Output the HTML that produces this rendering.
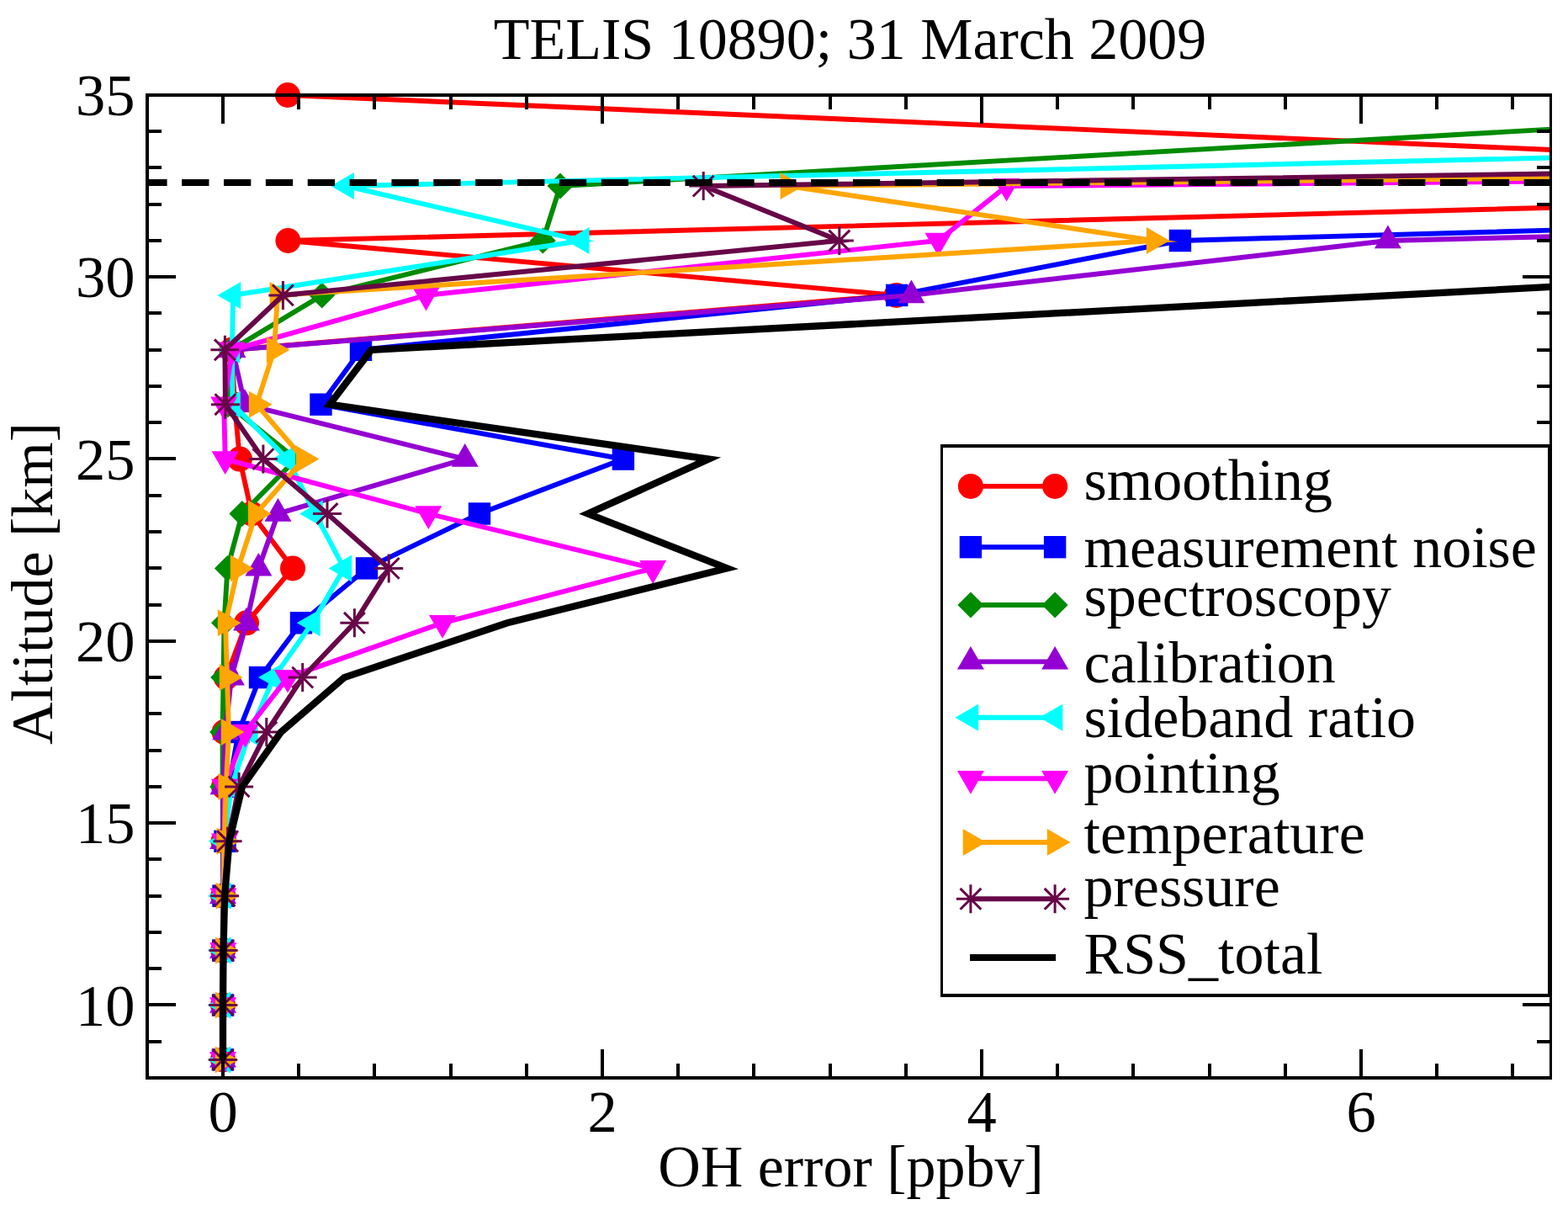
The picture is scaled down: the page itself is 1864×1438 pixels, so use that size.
<!DOCTYPE html>
<html><head><meta charset="utf-8"><title>TELIS 10890; 31 March 2009</title>
<style>
html,body{margin:0;padding:0;background:#fff;}
svg{display:block;}
text{font-family:"Liberation Serif","Times New Roman",serif;fill:#000;}
</style></head><body>
<svg width="1864" height="1438" viewBox="0 0 1864 1438">
<rect width="1864" height="1438" fill="#fff"/>
<defs><clipPath id="pc"><rect x="175" y="113" width="1668.5" height="1168"/></clipPath></defs>

<g><path d="M342 113 L2835 220.9 L342.4 286 L1065.6 350.9 L275.5 415.8 L279 480.7 L285 545.6 L299.3 610.5 L348 675.4 L293 740.3 L268.7 805.1 L266.5 870 L266 934.9 L265.5 999.8 L265.3 1064.7 L265.2 1129.6 L265.1 1194.5 L265 1259.4" fill="none" stroke="#ff0000" stroke-width="5.9" stroke-linejoin="miter" stroke-miterlimit="10" clip-path="url(#pc)"/>
<circle cx="342" cy="113" r="15" fill="#ff0000"/>
<circle cx="342.4" cy="286" r="15" fill="#ff0000"/>
<circle cx="1065.6" cy="350.9" r="15" fill="#ff0000"/>
<circle cx="275.5" cy="415.8" r="15" fill="#ff0000"/>
<circle cx="279" cy="480.7" r="15" fill="#ff0000"/>
<circle cx="285" cy="545.6" r="15" fill="#ff0000"/>
<circle cx="299.3" cy="610.5" r="15" fill="#ff0000"/>
<circle cx="348" cy="675.4" r="15" fill="#ff0000"/>
<circle cx="293" cy="740.3" r="15" fill="#ff0000"/>
<circle cx="268.7" cy="805.1" r="15" fill="#ff0000"/>
<circle cx="266.5" cy="870" r="15" fill="#ff0000"/>
<circle cx="266" cy="934.9" r="15" fill="#ff0000"/>
<circle cx="265.5" cy="999.8" r="15" fill="#ff0000"/>
<circle cx="265.3" cy="1064.7" r="15" fill="#ff0000"/>
<circle cx="265.2" cy="1129.6" r="15" fill="#ff0000"/>
<circle cx="265.1" cy="1194.5" r="15" fill="#ff0000"/>
<circle cx="265" cy="1259.4" r="15" fill="#ff0000"/>
</g>
<g><path d="M2000 269.3 L1402.9 286 L1066.2 350.9 L429 415.8 L381.5 480.7 L740.9 545.6 L570 610.5 L436 675.4 L358 740.3 L309 805.1 L283.5 870 L272 934.9 L267.5 999.8 L265.5 1064.7 L265.2 1129.6 L265.1 1194.5 L265 1259.4" fill="none" stroke="#0000ff" stroke-width="5.9" stroke-linejoin="miter" stroke-miterlimit="10" clip-path="url(#pc)"/>
<rect x="1389.7" y="272.8" width="26.4" height="26.4" fill="#0000ff"/>
<rect x="1053" y="337.7" width="26.4" height="26.4" fill="#0000ff"/>
<rect x="415.8" y="402.6" width="26.4" height="26.4" fill="#0000ff"/>
<rect x="368.3" y="467.5" width="26.4" height="26.4" fill="#0000ff"/>
<rect x="727.7" y="532.4" width="26.4" height="26.4" fill="#0000ff"/>
<rect x="556.8" y="597.3" width="26.4" height="26.4" fill="#0000ff"/>
<rect x="422.8" y="662.2" width="26.4" height="26.4" fill="#0000ff"/>
<rect x="344.8" y="727.1" width="26.4" height="26.4" fill="#0000ff"/>
<rect x="295.8" y="791.9" width="26.4" height="26.4" fill="#0000ff"/>
<rect x="270.3" y="856.8" width="26.4" height="26.4" fill="#0000ff"/>
<rect x="258.8" y="921.7" width="26.4" height="26.4" fill="#0000ff"/>
<rect x="254.3" y="986.6" width="26.4" height="26.4" fill="#0000ff"/>
<rect x="252.3" y="1051.5" width="26.4" height="26.4" fill="#0000ff"/>
<rect x="252" y="1116.4" width="26.4" height="26.4" fill="#0000ff"/>
<rect x="251.9" y="1181.3" width="26.4" height="26.4" fill="#0000ff"/>
<rect x="251.8" y="1246.2" width="26.4" height="26.4" fill="#0000ff"/>
</g>
<g><path d="M2000 144.7 L666 221.1 L645.3 286 L382.7 350.9 L275 415.8 L271 480.7 L352 545.6 L287.9 610.5 L270.4 675.4 L266.5 740.3 L265.6 805.1 L264.6 870 L264.6 934.9 L265 999.8 L265 1064.7 L265 1129.6 L265 1194.5 L265 1259.4" fill="none" stroke="#008b00" stroke-width="5.9" stroke-linejoin="miter" stroke-miterlimit="10" clip-path="url(#pc)"/>
<polygon points="666,205.6 681.5,221.1 666,236.6 650.5,221.1" fill="#008b00"/>
<polygon points="645.3,270.5 660.8,286 645.3,301.5 629.8,286" fill="#008b00"/>
<polygon points="382.7,335.4 398.2,350.9 382.7,366.4 367.2,350.9" fill="#008b00"/>
<polygon points="275,400.3 290.5,415.8 275,431.3 259.5,415.8" fill="#008b00"/>
<polygon points="271,465.2 286.5,480.7 271,496.2 255.5,480.7" fill="#008b00"/>
<polygon points="352,530.1 367.5,545.6 352,561.1 336.5,545.6" fill="#008b00"/>
<polygon points="287.9,595 303.4,610.5 287.9,626 272.4,610.5" fill="#008b00"/>
<polygon points="270.4,659.9 285.9,675.4 270.4,690.9 254.9,675.4" fill="#008b00"/>
<polygon points="266.5,724.8 282,740.3 266.5,755.8 251,740.3" fill="#008b00"/>
<polygon points="265.6,789.6 281.1,805.1 265.6,820.6 250.1,805.1" fill="#008b00"/>
<polygon points="264.6,854.5 280.1,870 264.6,885.5 249.1,870" fill="#008b00"/>
<polygon points="264.6,919.4 280.1,934.9 264.6,950.4 249.1,934.9" fill="#008b00"/>
<polygon points="265,984.3 280.5,999.8 265,1015.3 249.5,999.8" fill="#008b00"/>
<polygon points="265,1049.2 280.5,1064.7 265,1080.2 249.5,1064.7" fill="#008b00"/>
<polygon points="265,1114.1 280.5,1129.6 265,1145.1 249.5,1129.6" fill="#008b00"/>
<polygon points="265,1179 280.5,1194.5 265,1210 249.5,1194.5" fill="#008b00"/>
<polygon points="265,1243.9 280.5,1259.4 265,1274.9 249.5,1259.4" fill="#008b00"/>
</g>
<g><path d="M2000 277.3 L1649.9 286 L1083.4 350.9 L276.5 415.8 L291 480.7 L552.7 545.6 L330.5 610.5 L307.4 675.4 L293 740.3 L274.9 805.1 L268.2 870 L265.5 934.9 L265.2 999.8 L265 1064.7 L265 1129.6 L265 1194.5 L265 1259.4" fill="none" stroke="#9400d3" stroke-width="5.9" stroke-linejoin="miter" stroke-miterlimit="10" clip-path="url(#pc)"/>
<polygon points="1649.9,267.5 1665.9,295.3 1633.9,295.3" fill="#9400d3"/>
<polygon points="1083.4,332.4 1099.4,360.2 1067.4,360.2" fill="#9400d3"/>
<polygon points="276.5,397.3 292.5,425.1 260.5,425.1" fill="#9400d3"/>
<polygon points="291,462.2 307,490 275,490" fill="#9400d3"/>
<polygon points="552.7,527.1 568.7,554.8 536.7,554.8" fill="#9400d3"/>
<polygon points="330.5,592 346.5,619.7 314.5,619.7" fill="#9400d3"/>
<polygon points="307.4,656.9 323.4,684.6 291.4,684.6" fill="#9400d3"/>
<polygon points="293,721.8 309,749.5 277,749.5" fill="#9400d3"/>
<polygon points="274.9,786.6 290.9,814.4 258.9,814.4" fill="#9400d3"/>
<polygon points="268.2,851.5 284.2,879.3 252.2,879.3" fill="#9400d3"/>
<polygon points="265.5,916.4 281.5,944.2 249.5,944.2" fill="#9400d3"/>
<polygon points="265.2,981.3 281.2,1009.1 249.2,1009.1" fill="#9400d3"/>
<polygon points="265,1046.2 281,1073.9 249,1073.9" fill="#9400d3"/>
<polygon points="265,1111.1 281,1138.8 249,1138.8" fill="#9400d3"/>
<polygon points="265,1176 281,1203.7 249,1203.7" fill="#9400d3"/>
<polygon points="265,1240.9 281,1268.6 249,1268.6" fill="#9400d3"/>
</g>
<g><path d="M2000 183.9 L411.7 221.1 L691.3 286 L277 350.9 L276 415.8 L276.5 480.7 L342 545.6 L374.5 610.5 L409 675.4 L371.3 740.3 L325.5 805.1 L297.3 870 L275 934.9 L266.2 999.8 L265.5 1064.7 L265.3 1129.6 L265.1 1194.5 L265 1259.4" fill="none" stroke="#00ffff" stroke-width="5.9" stroke-linejoin="miter" stroke-miterlimit="10" clip-path="url(#pc)"/>
<polygon points="393.2,221.1 420.9,205.1 420.9,237.1" fill="#00ffff"/>
<polygon points="672.8,286 700.5,270 700.5,302" fill="#00ffff"/>
<polygon points="258.5,350.9 286.2,334.9 286.2,366.9" fill="#00ffff"/>
<polygon points="257.5,415.8 285.2,399.8 285.2,431.8" fill="#00ffff"/>
<polygon points="258,480.7 285.8,464.7 285.8,496.7" fill="#00ffff"/>
<polygon points="323.5,545.6 351.2,529.6 351.2,561.6" fill="#00ffff"/>
<polygon points="356,610.5 383.8,594.5 383.8,626.5" fill="#00ffff"/>
<polygon points="390.5,675.4 418.2,659.4 418.2,691.4" fill="#00ffff"/>
<polygon points="352.8,740.3 380.6,724.3 380.6,756.3" fill="#00ffff"/>
<polygon points="307,805.1 334.8,789.1 334.8,821.1" fill="#00ffff"/>
<polygon points="278.8,870 306.6,854 306.6,886" fill="#00ffff"/>
<polygon points="256.5,934.9 284.2,918.9 284.2,950.9" fill="#00ffff"/>
<polygon points="247.7,999.8 275.4,983.8 275.4,1015.8" fill="#00ffff"/>
<polygon points="247,1064.7 274.8,1048.7 274.8,1080.7" fill="#00ffff"/>
<polygon points="246.8,1129.6 274.6,1113.6 274.6,1145.6" fill="#00ffff"/>
<polygon points="246.6,1194.5 274.4,1178.5 274.4,1210.5" fill="#00ffff"/>
<polygon points="246.5,1259.4 274.2,1243.4 274.2,1275.4" fill="#00ffff"/>
</g>
<g><path d="M2000 214.1 L1196.6 221.1 L1115.5 286 L506.5 350.9 L276 415.8 L266.2 480.7 L267.7 545.6 L509.3 610.5 L776.2 675.4 L526 740.3 L342 805.1 L291.5 870 L267 934.9 L267 999.8 L265.5 1064.7 L265.3 1129.6 L265.1 1194.5 L265 1259.4" fill="none" stroke="#ff00ff" stroke-width="5.9" stroke-linejoin="miter" stroke-miterlimit="10" clip-path="url(#pc)"/>
<polygon points="1196.6,239.6 1212.6,211.9 1180.6,211.9" fill="#ff00ff"/>
<polygon points="1115.5,304.5 1131.5,276.8 1099.5,276.8" fill="#ff00ff"/>
<polygon points="506.5,369.4 522.5,341.7 490.5,341.7" fill="#ff00ff"/>
<polygon points="276,434.3 292,406.6 260,406.6" fill="#ff00ff"/>
<polygon points="266.2,499.2 282.2,471.5 250.2,471.5" fill="#ff00ff"/>
<polygon points="267.7,564.1 283.7,536.3 251.7,536.3" fill="#ff00ff"/>
<polygon points="509.3,629 525.3,601.2 493.3,601.2" fill="#ff00ff"/>
<polygon points="776.2,693.9 792.2,666.1 760.2,666.1" fill="#ff00ff"/>
<polygon points="526,758.8 542,731 510,731" fill="#ff00ff"/>
<polygon points="342,823.6 358,795.9 326,795.9" fill="#ff00ff"/>
<polygon points="291.5,888.5 307.5,860.8 275.5,860.8" fill="#ff00ff"/>
<polygon points="267,953.4 283,925.7 251,925.7" fill="#ff00ff"/>
<polygon points="267,1018.3 283,990.6 251,990.6" fill="#ff00ff"/>
<polygon points="265.5,1083.2 281.5,1055.4 249.5,1055.4" fill="#ff00ff"/>
<polygon points="265.3,1148.1 281.3,1120.3 249.3,1120.3" fill="#ff00ff"/>
<polygon points="265.1,1213 281.1,1185.2 249.1,1185.2" fill="#ff00ff"/>
<polygon points="265,1277.9 281,1250.1 249,1250.1" fill="#ff00ff"/>
</g>
<g><path d="M2000 210 L936.9 221.1 L1372 286 L329.9 350.9 L326 415.8 L305 480.7 L361 545.6 L304.2 610.5 L283 675.4 L268 740.3 L270 805.1 L272 870 L268.7 934.9 L266.7 999.8 L265.8 1064.7 L265.3 1129.6 L265.1 1194.5 L265 1259.4" fill="none" stroke="#ffa500" stroke-width="5.9" stroke-linejoin="miter" stroke-miterlimit="10" clip-path="url(#pc)"/>
<polygon points="955.4,221.1 927.6,205.1 927.6,237.1" fill="#ffa500"/>
<polygon points="1390.5,286 1362.8,270 1362.8,302" fill="#ffa500"/>
<polygon points="348.4,350.9 320.6,334.9 320.6,366.9" fill="#ffa500"/>
<polygon points="344.5,415.8 316.8,399.8 316.8,431.8" fill="#ffa500"/>
<polygon points="323.5,480.7 295.8,464.7 295.8,496.7" fill="#ffa500"/>
<polygon points="379.5,545.6 351.8,529.6 351.8,561.6" fill="#ffa500"/>
<polygon points="322.7,610.5 294.9,594.5 294.9,626.5" fill="#ffa500"/>
<polygon points="301.5,675.4 273.8,659.4 273.8,691.4" fill="#ffa500"/>
<polygon points="286.5,740.3 258.8,724.3 258.8,756.3" fill="#ffa500"/>
<polygon points="288.5,805.1 260.8,789.1 260.8,821.1" fill="#ffa500"/>
<polygon points="290.5,870 262.8,854 262.8,886" fill="#ffa500"/>
<polygon points="287.2,934.9 259.4,918.9 259.4,950.9" fill="#ffa500"/>
<polygon points="285.2,999.8 257.4,983.8 257.4,1015.8" fill="#ffa500"/>
<polygon points="284.3,1064.7 256.6,1048.7 256.6,1080.7" fill="#ffa500"/>
<polygon points="283.8,1129.6 256.1,1113.6 256.1,1145.6" fill="#ffa500"/>
<polygon points="283.6,1194.5 255.9,1178.5 255.9,1210.5" fill="#ffa500"/>
<polygon points="283.5,1259.4 255.8,1243.4 255.8,1275.4" fill="#ffa500"/>
</g>
<g><path d="M2000 204.2 L836.2 221.1 L997.8 286 L336.4 350.9 L267.4 415.8 L267.9 480.7 L312.9 545.6 L389 610.5 L462.2 675.4 L421.4 740.3 L359.7 805.1 L316.8 870 L284.1 934.9 L270.6 999.8 L267.1 1064.7 L265.5 1129.6 L265.2 1194.5 L265 1259.4" fill="none" stroke="#670748" stroke-width="5.9" stroke-linejoin="miter" stroke-miterlimit="10" clip-path="url(#pc)"/>
<path d="M819.2 221.1H853.2M836.2 204.1V238.1M823.8 208.7L848.6 233.5M823.8 233.5L848.6 208.7" stroke="#670748" stroke-width="3" fill="none"/>
<path d="M980.8 286H1014.8M997.8 269V303M985.4 273.6L1010.2 298.4M985.4 298.4L1010.2 273.6" stroke="#670748" stroke-width="3" fill="none"/>
<path d="M319.4 350.9H353.4M336.4 333.9V367.9M324 338.5L348.8 363.3M324 363.3L348.8 338.5" stroke="#670748" stroke-width="3" fill="none"/>
<path d="M250.4 415.8H284.4M267.4 398.8V432.8M255 403.4L279.8 428.2M255 428.2L279.8 403.4" stroke="#670748" stroke-width="3" fill="none"/>
<path d="M250.9 480.7H284.9M267.9 463.7V497.7M255.5 468.3L280.3 493.1M255.5 493.1L280.3 468.3" stroke="#670748" stroke-width="3" fill="none"/>
<path d="M295.9 545.6H329.9M312.9 528.6V562.6M300.5 533.2L325.3 558M300.5 558L325.3 533.2" stroke="#670748" stroke-width="3" fill="none"/>
<path d="M372 610.5H406M389 593.5V627.5M376.6 598.1L401.4 622.9M376.6 622.9L401.4 598.1" stroke="#670748" stroke-width="3" fill="none"/>
<path d="M445.2 675.4H479.2M462.2 658.4V692.4M449.8 663L474.6 687.8M449.8 687.8L474.6 663" stroke="#670748" stroke-width="3" fill="none"/>
<path d="M404.4 740.3H438.4M421.4 723.3V757.3M409 727.9L433.8 752.7M409 752.7L433.8 727.9" stroke="#670748" stroke-width="3" fill="none"/>
<path d="M342.7 805.1H376.7M359.7 788.1V822.1M347.3 792.7L372.1 817.5M347.3 817.5L372.1 792.7" stroke="#670748" stroke-width="3" fill="none"/>
<path d="M299.8 870H333.8M316.8 853V887M304.4 857.6L329.2 882.4M304.4 882.4L329.2 857.6" stroke="#670748" stroke-width="3" fill="none"/>
<path d="M267.1 934.9H301.1M284.1 917.9V951.9M271.7 922.5L296.5 947.3M271.7 947.3L296.5 922.5" stroke="#670748" stroke-width="3" fill="none"/>
<path d="M253.6 999.8H287.6M270.6 982.8V1016.8M258.2 987.4L283 1012.2M258.2 1012.2L283 987.4" stroke="#670748" stroke-width="3" fill="none"/>
<path d="M250.1 1064.7H284.1M267.1 1047.7V1081.7M254.7 1052.3L279.5 1077.1M254.7 1077.1L279.5 1052.3" stroke="#670748" stroke-width="3" fill="none"/>
<path d="M248.5 1129.6H282.5M265.5 1112.6V1146.6M253.1 1117.2L277.9 1142M253.1 1142L277.9 1117.2" stroke="#670748" stroke-width="3" fill="none"/>
<path d="M248.2 1194.5H282.2M265.2 1177.5V1211.5M252.8 1182.1L277.6 1206.9M252.8 1206.9L277.6 1182.1" stroke="#670748" stroke-width="3" fill="none"/>
<path d="M248 1259.4H282M265 1242.4V1276.4M252.6 1247L277.4 1271.8M252.6 1271.8L277.4 1247" stroke="#670748" stroke-width="3" fill="none"/>
</g>
<g><path d="M2000 332.6 L441.5 415.8 L391.9 480.7 L842.5 545.6 L698.9 610.5 L864.3 675.4 L603.2 740.3 L409.3 805.1 L334 870 L288 934.9 L272.5 999.8 L267.1 1064.7 L265.5 1129.6 L265 1194.5 L265 1259.4" fill="none" stroke="#000000" stroke-width="8.3" stroke-linejoin="miter" stroke-miterlimit="10" clip-path="url(#pc)"/>
</g>
<line x1="175" y1="217" x2="1843.5" y2="217" stroke="#000" stroke-width="7.8" stroke-dasharray="32.3 17.56" stroke-dashoffset="8.7" clip-path="url(#pc)"/>
<path d="M263 1247H267V1279H263ZM263 115H267V147H263ZM353 1264H357V1279H353ZM353 115H357V130H353ZM443 1264H447V1279H443ZM443 115H447V130H443ZM534 1264H538V1279H534ZM534 115H538V130H534ZM624 1264H628V1279H624ZM624 115H628V130H624ZM714 1247H718V1279H714ZM714 115H718V147H714ZM804 1264H808V1279H804ZM804 115H808V130H804ZM894 1264H898V1279H894ZM894 115H898V130H894ZM985 1264H989V1279H985ZM985 115H989V130H985ZM1075 1264H1079V1279H1075ZM1075 115H1079V130H1075ZM1165 1247H1169V1279H1165ZM1165 115H1169V147H1165ZM1255 1264H1259V1279H1255ZM1255 115H1259V130H1255ZM1345 1264H1349V1279H1345ZM1345 115H1349V130H1345ZM1436 1264H1440V1279H1436ZM1436 115H1440V130H1436ZM1526 1264H1530V1279H1526ZM1526 115H1530V130H1526ZM1616 1247H1620V1279H1616ZM1616 115H1620V147H1616ZM1706 1264H1710V1279H1706ZM1706 115H1710V130H1706ZM1796 1264H1800V1279H1796ZM1796 115H1800V130H1796ZM177 1236H192V1240H177ZM1827 1236H1842V1240H1827ZM177 1192H209V1196H177ZM1810 1192H1842V1196H1810ZM177 1149H192V1153H177ZM1827 1149H1842V1153H1827ZM177 1106H192V1110H177ZM1827 1106H1842V1110H1827ZM177 1063H192V1067H177ZM1827 1063H1842V1067H1827ZM177 1019H192V1023H177ZM1827 1019H1842V1023H1827ZM177 976H209V980H177ZM1810 976H1842V980H1810ZM177 933H192V937H177ZM1827 933H1842V937H1827ZM177 890H192V894H177ZM1827 890H1842V894H1827ZM177 846H192V850H177ZM1827 846H1842V850H1827ZM177 803H192V807H177ZM1827 803H1842V807H1827ZM177 760H209V764H177ZM1810 760H1842V764H1810ZM177 717H192V721H177ZM1827 717H1842V721H1827ZM177 673H192V677H177ZM1827 673H1842V677H1827ZM177 630H192V634H177ZM1827 630H1842V634H1827ZM177 587H192V591H177ZM1827 587H1842V591H1827ZM177 543H209V547H177ZM1810 543H1842V547H1810ZM177 500H192V504H177ZM1827 500H1842V504H1827ZM177 457H192V461H177ZM1827 457H1842V461H1827ZM177 414H192V418H177ZM1827 414H1842V418H1827ZM177 370H192V374H177ZM1827 370H1842V374H1827ZM177 327H209V331H177ZM1810 327H1842V331H1810ZM177 284H192V288H177ZM1827 284H1842V288H1827ZM177 241H192V245H177ZM1827 241H1842V245H1827ZM177 197H192V201H177ZM1827 197H1842V201H1827ZM177 154H192V158H177ZM1827 154H1842V158H1827ZM173 111H177V1283H173ZM1842 111H1845V1283H1842ZM173 111H1845V115H173ZM173 1279H1845V1283H173Z" fill="#000"/>
<text x="160.5" y="137.1" font-size="70.5" text-anchor="end">35</text>
<text x="160.5" y="353.4" font-size="70.5" text-anchor="end">30</text>
<text x="160.5" y="569.7" font-size="70.5" text-anchor="end">25</text>
<text x="160.5" y="786" font-size="70.5" text-anchor="end">20</text>
<text x="160.5" y="1002.3" font-size="70.5" text-anchor="end">15</text>
<text x="160.5" y="1218.6" font-size="70.5" text-anchor="end">10</text>
<text x="265" y="1344.5" font-size="70.5" text-anchor="middle">0</text>
<text x="716" y="1344.5" font-size="70.5" text-anchor="middle">2</text>
<text x="1167" y="1344.5" font-size="70.5" text-anchor="middle">4</text>
<text x="1618" y="1344.5" font-size="70.5" text-anchor="middle">6</text>
<text x="1011.5" y="1409.5" font-size="70" text-anchor="middle">OH error [ppbv]</text>
<text transform="translate(62 693.4) rotate(-90)" font-size="70" text-anchor="middle">Altitude [km]</text>
<text x="1010.5" y="70" font-size="70" text-anchor="middle">TELIS 10890; 31 March 2009</text>
<rect x="1118" y="528" width="725" height="657" fill="#fff"/>
<path d="M1118 528H1121V1185H1118ZM1840 528H1843V1185H1840ZM1118 528H1843V532H1118ZM1118 1181H1843V1185H1118Z" fill="#000"/>
<line x1="1153.9" y1="577.9" x2="1254.1" y2="577.9" stroke="#ff0000" stroke-width="5.9"/>
<circle cx="1153.9" cy="577.9" r="15" fill="#ff0000"/>
<circle cx="1254.1" cy="577.9" r="15" fill="#ff0000"/>
<text x="1288.5" y="594" font-size="70">smoothing</text>
<line x1="1153.9" y1="650.2" x2="1254.1" y2="650.2" stroke="#0000ff" stroke-width="5.9"/>
<rect x="1140.7" y="637" width="26.4" height="26.4" fill="#0000ff"/>
<rect x="1240.9" y="637" width="26.4" height="26.4" fill="#0000ff"/>
<text x="1288.5" y="674.2" font-size="70">measurement noise</text>
<line x1="1153.9" y1="719" x2="1254.1" y2="719" stroke="#008b00" stroke-width="5.9"/>
<polygon points="1153.9,703.5 1169.4,719 1153.9,734.5 1138.4,719" fill="#008b00"/>
<polygon points="1254.1,703.5 1269.6,719 1254.1,734.5 1238.6,719" fill="#008b00"/>
<text x="1288.5" y="731.8" font-size="70">spectroscopy</text>
<line x1="1153.9" y1="786.4" x2="1254.1" y2="786.4" stroke="#9400d3" stroke-width="5.9"/>
<polygon points="1153.9,767.9 1169.9,795.6 1137.9,795.6" fill="#9400d3"/>
<polygon points="1254.1,767.9 1270.1,795.6 1238.1,795.6" fill="#9400d3"/>
<text x="1288.5" y="810.5" font-size="70">calibration</text>
<line x1="1153.9" y1="852.8" x2="1254.1" y2="852.8" stroke="#00ffff" stroke-width="5.9"/>
<polygon points="1135.4,852.8 1163.2,836.8 1163.2,868.8" fill="#00ffff"/>
<polygon points="1235.6,852.8 1263.3,836.8 1263.3,868.8" fill="#00ffff"/>
<text x="1288.5" y="876" font-size="70">sideband ratio</text>
<line x1="1153.9" y1="925.2" x2="1254.1" y2="925.2" stroke="#ff00ff" stroke-width="5.9"/>
<polygon points="1153.9,943.7 1169.9,916 1137.9,916" fill="#ff00ff"/>
<polygon points="1254.1,943.7 1270.1,916 1238.1,916" fill="#ff00ff"/>
<text x="1288.5" y="942.1" font-size="70">pointing</text>
<line x1="1153.9" y1="1001" x2="1254.1" y2="1001" stroke="#ffa500" stroke-width="5.9"/>
<polygon points="1172.4,1001 1144.7,985 1144.7,1017" fill="#ffa500"/>
<polygon points="1272.6,1001 1244.8,985 1244.8,1017" fill="#ffa500"/>
<text x="1288.5" y="1013.6" font-size="70">temperature</text>
<line x1="1153.9" y1="1068.3" x2="1254.1" y2="1068.3" stroke="#670748" stroke-width="5.9"/>
<path d="M1136.9 1068.3H1170.9M1153.9 1051.3V1085.3M1141.5 1055.9L1166.3 1080.7M1141.5 1080.7L1166.3 1055.9" stroke="#670748" stroke-width="3" fill="none"/>
<path d="M1237.1 1068.3H1271.1M1254.1 1051.3V1085.3M1241.7 1055.9L1266.5 1080.7M1241.7 1080.7L1266.5 1055.9" stroke="#670748" stroke-width="3" fill="none"/>
<text x="1288.5" y="1077.1" font-size="70">pressure</text>
<line x1="1153" y1="1137.9" x2="1255.1" y2="1137.9" stroke="#000" stroke-width="8"/>
<text x="1288.5" y="1156.8" font-size="70">RSS_total</text>
</svg>
</body></html>
